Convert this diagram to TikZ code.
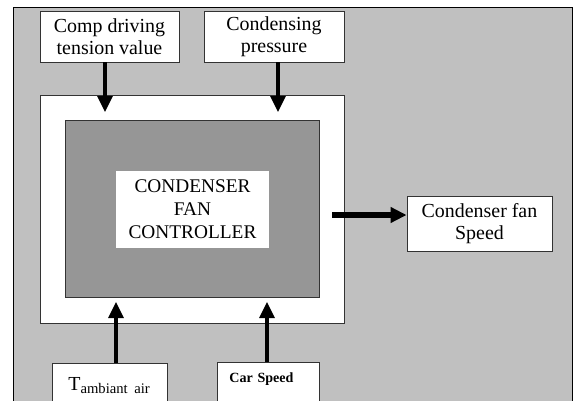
\documentclass[tikz,border=0pt]{standalone}
\usepackage{fontspec}
\setmainfont{Liberation Serif}
\usetikzlibrary{arrows.meta}

\definecolor{panelgrey}{HTML}{C0C0C0}
\definecolor{coregrey}{HTML}{969696}

\tikzset{
  inbox/.style={draw=black!80, line width=0.7pt, fill=white, align=center, inner sep=0pt,
    font=\fontsize{17}{19}\selectfont},
  feed/.style={line width=2.6pt, -{Triangle[width=0.45cm,length=0.48cm]}},
}

\begin{document}
\begin{tikzpicture}
    \useasboundingbox (0,0) rectangle (17.22,-12.03);

    % Grey background panel, open at the bottom
    \fill[panelgrey] (0.39,-0.21) rectangle (17.16,-12.2);
    \draw[line width=0.7pt] (0.39,-12.2) |- (17.16,-0.21) -- (17.16,-12.2);

    % The controller: white frame, grey core and its title
    \node[draw=black!80, line width=0.7pt, fill=white, minimum width=9.12cm, minimum height=6.84cm] (frame) at (5.76,-6.27) {};
    \node[draw=black!80, line width=0.7pt, fill=coregrey, minimum width=7.62cm, minimum height=5.31cm] (core) at (5.76,-6.255) {};
    \node[fill=white, minimum width=4.59cm, minimum height=2.31cm, align=center, font=\fontsize{16.5}{19.5}\selectfont] (title) at (5.775,-6.285) {CONDENSER\\FAN\\CONTROLLER};

    % Inputs on top
    \node[inbox, minimum width=4.17cm, minimum height=1.53cm] (comp) at (3.285,-1.095) {Comp driving\\tension value};
    \node[inbox, minimum width=4.20cm, minimum height=1.53cm] (cond) at (8.22,-1.095) {Condensing\\pressure};

    % Inputs below, cut by the lower edge
    \node[inbox, anchor=north west, align=left, text width=2.49cm, inner xsep=0.48cm, text height=0.81cm, text depth=0.6cm] (tamb) at (1.56,-10.89) {T\raisebox{-0.09cm}{\fontsize{12.5}{14}\selectfont ambiant\hspace{0.45em}air}};
    \node[inbox, anchor=north west, align=left, text width=2.34cm, inner xsep=0.36cm, text height=0.6cm, text depth=0.8cm, font=\fontsize{12}{14}\selectfont\bfseries] (car) at (6.51,-10.86) {Car Speed};

    % Output
    \node[inbox, minimum width=4.35cm, minimum height=1.65cm] (fan) at (14.385,-6.705) {Condenser fan\\Speed};

    % Free ends of the arrows
    \coordinate (comp-in) at (3.15,-3.36);
    \coordinate (cond-in) at (8.34,-3.36);
    \coordinate (tamb-in) at (3.48,-9.06);
    \coordinate (car-in) at (8.01,-9.06);
    \coordinate (fan-out) at (9.96,-6.45);

    % Arrows
    \draw[feed] (comp.south -| comp-in) -- (comp-in);
    \draw[feed] (cond.south -| cond-in) -- (cond-in);
    \draw[feed] (tamb.north -| tamb-in) -- (tamb-in);
    \draw[feed] (car.north -| car-in) -- (car-in);
    \draw[feed, line width=0.2cm] (fan-out) -- (fan-out -| fan.west);
\end{tikzpicture}
\end{document}
